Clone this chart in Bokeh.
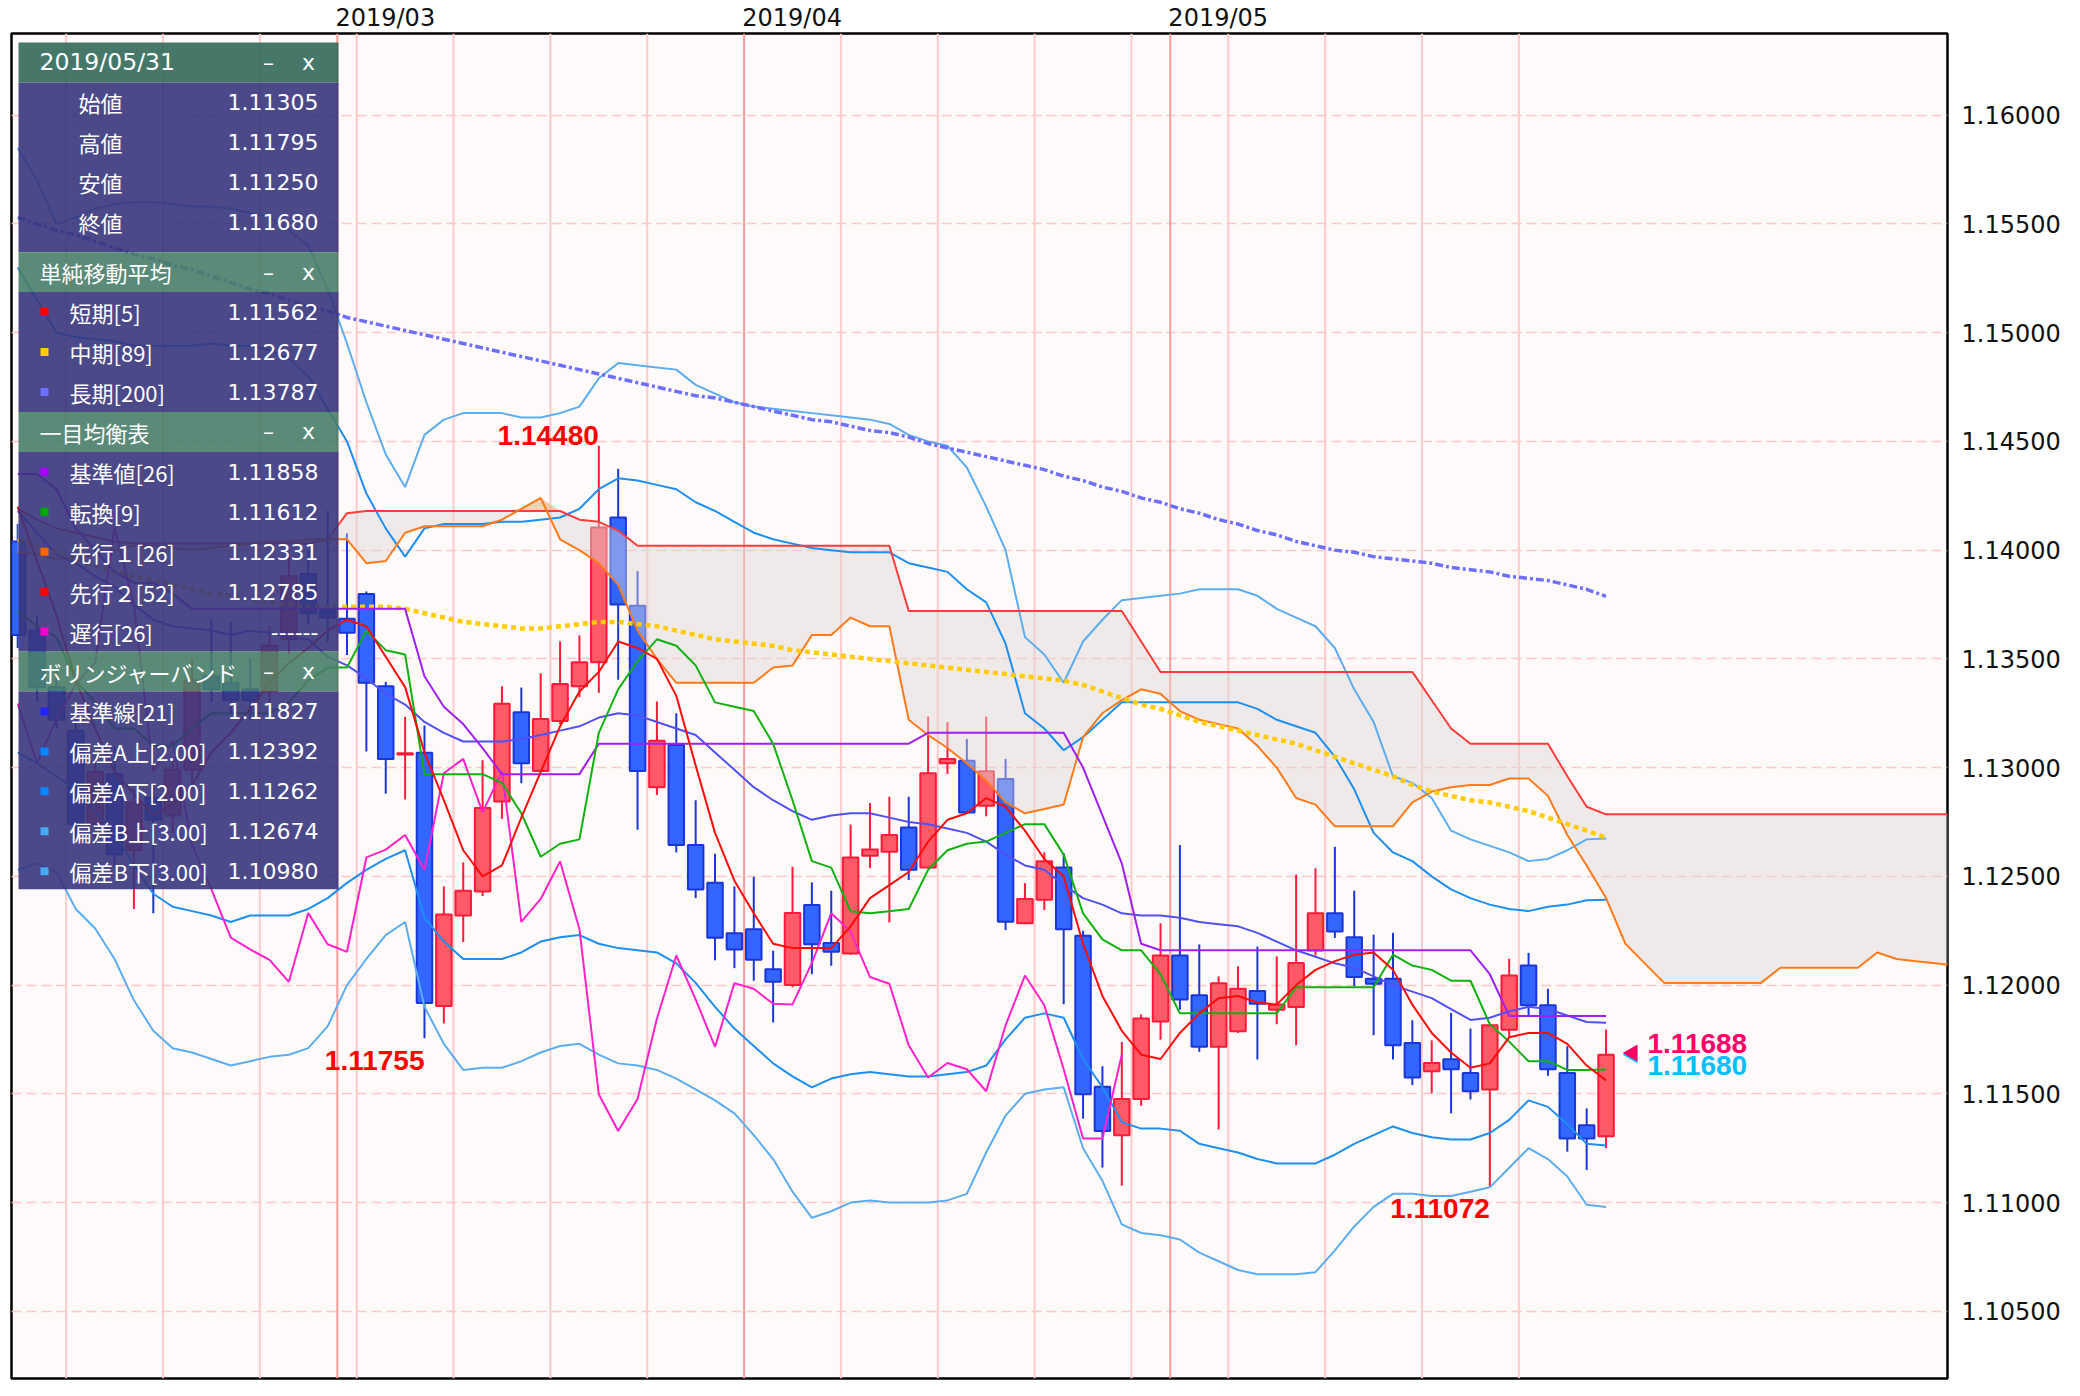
import numpy as np
import pandas as pd
from bokeh.plotting import figure
from bokeh.models import (Range1d, FixedTicker, NumeralTickFormatter, Span, LinearAxis,
                          ColumnDataSource)
from bokeh.core.properties import value
from bokeh.embed import file_html
from bokeh.resources import INLINE

# ---------------- data (EUR/USD daily, Feb 6 - May 31 2019) ----------------
dates = pd.bdate_range("2019-02-06", "2019-05-31")
x = np.arange(len(dates)) - 17          # 2019-03-01 -> 0

opens = [1.1404, 1.1363, 1.1337, 1.1317, 1.1274, 1.1297, 1.1262, 1.1286, 1.1278, 1.1299, 1.1342, 1.1339, 1.1336, 1.1335, 1.1359, 1.1389, 1.1372,
         1.13684, 1.13798, 1.13374, 1.13060, 1.13068, 1.11904, 1.12320, 1.12430, 1.12844, 1.13254, 1.12984, 1.13214, 1.13374, 1.13484, 1.14150, 1.13744,
         1.12910, 1.13104, 1.12644, 1.12470, 1.12238, 1.12257, 1.12073, 1.12000, 1.12368, 1.12193, 1.12145, 1.12595, 1.12613, 1.12725, 1.12541, 1.13020,
         1.13032, 1.12825, 1.12948, 1.12284, 1.12392, 1.12541, 1.12227, 1.11532, 1.11310, 1.11476, 1.11833, 1.12136, 1.11953, 1.11716, 1.11788, 1.11973,
         1.11887, 1.11899, 1.12159, 1.12330, 1.12220, 1.12029, 1.12029, 1.11734, 1.11604, 1.11659, 1.11596, 1.11520, 1.11795, 1.12090, 1.11907, 1.11596,
         1.11356, 1.11305]
highs = [1.1412, 1.1370, 1.1345, 1.1322, 1.1305, 1.1310, 1.1290, 1.1292, 1.1305, 1.1350, 1.1368, 1.1367, 1.1350, 1.1365, 1.1398, 1.1400, 1.1418,
         1.14078, 1.13810, 1.13394, 1.13234, 1.13194, 1.12454, 1.12564, 1.13034, 1.13374, 1.13368, 1.13434, 1.13580, 1.13608, 1.14480, 1.14374, 1.13904,
         1.13304, 1.13250, 1.12850, 1.12604, 1.12454, 1.12498, 1.12158, 1.12544, 1.12472, 1.12434, 1.12738, 1.12837, 1.12866, 1.12866, 1.13235, 1.13209,
         1.13132, 1.13235, 1.13040, 1.12469, 1.12610, 1.12607, 1.12250, 1.11627, 1.11739, 1.11865, 1.12284, 1.12644, 1.12187, 1.12040, 1.12086, 1.12177,
         1.12132, 1.12508, 1.12537, 1.12636, 1.12434, 1.12232, 1.12240, 1.11838, 1.11746, 1.11872, 1.11800, 1.11815, 1.12121, 1.12148, 1.11983, 1.11719,
         1.11433, 1.11795]
lows = [1.1355, 1.1330, 1.1318, 1.1268, 1.1265, 1.1255, 1.1235, 1.1233, 1.1270, 1.1290, 1.1330, 1.1325, 1.1322, 1.1330, 1.1352, 1.1366, 1.1358,
        1.13518, 1.13074, 1.12880, 1.12854, 1.11755, 1.11824, 1.12198, 1.12410, 1.12764, 1.12928, 1.12980, 1.13200, 1.13324, 1.13344, 1.13404, 1.12714,
        1.12874, 1.12610, 1.12400, 1.12114, 1.12078, 1.12020, 1.11828, 1.11990, 1.12050, 1.12089, 1.12140, 1.12538, 1.12288, 1.12483, 1.12540, 1.12971,
        1.12787, 1.12776, 1.12253, 1.12280, 1.12345, 1.11912, 1.11386, 1.11161, 1.11078, 1.11445, 1.11749, 1.11887, 1.11693, 1.11336, 1.11780, 1.11658,
        1.11820, 1.11723, 1.12136, 1.12217, 1.11994, 1.11769, 1.11658, 1.11540, 1.11502, 1.11410, 1.11474, 1.11072, 1.11762, 1.11856, 1.11583, 1.11234,
        1.11150, 1.11250]
closes = [1.1361, 1.1337, 1.1322, 1.1274, 1.1298, 1.1260, 1.1284, 1.1276, 1.1299, 1.1340, 1.1336, 1.1331, 1.1331, 1.1356, 1.1388, 1.1371, 1.1369,
          1.13620, 1.13390, 1.13040, 1.13066, 1.11918, 1.12324, 1.12434, 1.12814, 1.13294, 1.13020, 1.13224, 1.13384, 1.13484, 1.14104, 1.13750, 1.12984,
          1.13124, 1.12644, 1.12440, 1.12218, 1.12164, 1.12116, 1.12015, 1.12331, 1.12188, 1.12153, 1.12587, 1.12623, 1.12690, 1.12530, 1.12974, 1.13040,
          1.12794, 1.12983, 1.12291, 1.12396, 1.12569, 1.12257, 1.11498, 1.11329, 1.11476, 1.11846, 1.12136, 1.11934, 1.11716, 1.12009, 1.11983, 1.11914,
          1.11911, 1.12102, 1.12330, 1.12246, 1.12037, 1.12006, 1.11723, 1.11575, 1.11642, 1.11613, 1.11512, 1.11815, 1.12044, 1.11907, 1.11613, 1.11295,
          1.11295, 1.11680]

sma5 = [1.1420, 1.1395, 1.1370, 1.1340, 1.1318, 1.1298, 1.1288, 1.1278, 1.1283, 1.1292, 1.1307, 1.1316, 1.1327, 1.1339, 1.1348, 1.1355, 1.1363,
        1.1368, 1.1365, 1.1351, 1.1337, 1.1307, 1.1285, 1.1262, 1.1250, 1.1255, 1.1277, 1.1298, 1.1319, 1.1335, 1.1344, 1.1358, 1.1355,
        1.1350, 1.1333, 1.1301, 1.1270, 1.1248, 1.1233, 1.1219, 1.1217, 1.1217, 1.1217, 1.1227, 1.1240, 1.1246, 1.1252, 1.1266, 1.1276,
        1.1279, 1.1286, 1.1282, 1.1271, 1.1258, 1.1250, 1.1219, 1.1195, 1.1179, 1.1168, 1.1166, 1.1178, 1.1187, 1.1194, 1.1195, 1.1192,
        1.1191, 1.1200, 1.1207, 1.1211, 1.1214, 1.1215, 1.1207, 1.1191, 1.1178, 1.1169, 1.1162, 1.1164, 1.1176, 1.1178, 1.1178, 1.1173,
        1.1163, 1.11562]
sma89 = [1.1405, 1.1402, 1.1399, 1.1396, 1.1393, 1.1390, 1.1388, 1.1386, 1.1384, 1.1382, 1.1380, 1.1379, 1.1377, 1.1376, 1.1375, 1.1374, 1.1374,
         1.1374, 1.1374, 1.1374, 1.1373, 1.1371, 1.1369, 1.1367, 1.1366, 1.1365, 1.1364, 1.1364, 1.1365, 1.1366, 1.1367, 1.1367, 1.1366,
         1.1365, 1.1363, 1.1361, 1.1359, 1.1358, 1.1357, 1.1356, 1.1354, 1.1353, 1.1352, 1.1351, 1.1350, 1.1349, 1.1348, 1.1347, 1.1346,
         1.1345, 1.1344, 1.1343, 1.1342, 1.1341, 1.1340, 1.1338, 1.1335, 1.1332, 1.1329, 1.1327, 1.1324, 1.1321, 1.1319, 1.1317, 1.1315,
         1.1313, 1.1311, 1.1308, 1.1305, 1.1302, 1.1299, 1.1296, 1.1292, 1.1289, 1.1287, 1.1285, 1.1284, 1.1282, 1.1280, 1.1277, 1.1274,
         1.1271, 1.12677]
sma200 = [1.1553, 1.1550, 1.1547, 1.1545, 1.1542, 1.1539, 1.1536, 1.1534, 1.1531, 1.1529, 1.1526, 1.1523, 1.1520, 1.1518, 1.1515, 1.1512, 1.1510,
          1.1507, 1.1505, 1.1503, 1.1501, 1.1499, 1.1497, 1.1495, 1.1493, 1.1491, 1.1489, 1.1487, 1.1485, 1.1483, 1.1481, 1.1479, 1.1477,
          1.1475, 1.1473, 1.1471, 1.1470, 1.1468, 1.1466, 1.1464, 1.1462, 1.1460, 1.1459, 1.1457, 1.1455, 1.1454, 1.1452, 1.1449, 1.1447,
          1.1445, 1.1443, 1.1441, 1.1439, 1.1437, 1.1434, 1.1432, 1.1429, 1.1427, 1.1424, 1.1422, 1.1419, 1.1417, 1.1414, 1.1412, 1.1409,
          1.1407, 1.1404, 1.1402, 1.1400, 1.1399, 1.1397, 1.1396, 1.1395, 1.1394, 1.1392, 1.1391, 1.1390, 1.1388, 1.1387, 1.1386, 1.1384,
          1.1382, 1.13787]

kijun = [1.1435, 1.1435, 1.1428, 1.1410, 1.1400, 1.1390, 1.1385, 1.1385, 1.1380, 1.1373, 1.1373, 1.1373, 1.1373, 1.1373, 1.1373, 1.1373, 1.1373,
         1.1373, 1.1373, 1.1373, 1.1373, 1.1342, 1.1328, 1.1320, 1.1309, 1.1297, 1.1297, 1.1297, 1.1297, 1.1297, 1.1311, 1.1311, 1.1311,
         1.1311, 1.1311, 1.1311, 1.1311, 1.1311, 1.1311, 1.1311, 1.1311, 1.1311, 1.1311, 1.1311, 1.1311, 1.1311, 1.1311, 1.1316, 1.1316,
         1.1316, 1.1316, 1.1316, 1.1316, 1.1316, 1.1316, 1.1300, 1.1278, 1.1256, 1.1219, 1.1216, 1.1216, 1.1216, 1.1216, 1.1216, 1.1216,
         1.1216, 1.1216, 1.1216, 1.1216, 1.1216, 1.1216, 1.1216, 1.1216, 1.1216, 1.1216, 1.1216, 1.1205, 1.11858, 1.11858, 1.11858, 1.11858,
         1.11858, 1.11858]
tenkan = [1.1372, 1.1365, 1.1360, 1.1340, 1.1330, 1.1318, 1.1318, 1.1310, 1.1310, 1.1318, 1.1325, 1.1325, 1.1325, 1.1325, 1.1330, 1.1340, 1.1346,
          1.1346, 1.1363, 1.1354, 1.1352, 1.1297, 1.1297, 1.1297, 1.1297, 1.1293, 1.1279, 1.1259, 1.1265, 1.1267, 1.1316, 1.1336, 1.1349,
          1.1359, 1.1356, 1.1347, 1.1330, 1.1328, 1.1326, 1.1311, 1.1285, 1.1257, 1.1254, 1.1234, 1.1233, 1.1234, 1.1235, 1.1253, 1.1262,
          1.1265, 1.1266, 1.1270, 1.1274, 1.1274, 1.1260, 1.1233, 1.1221, 1.1216, 1.1216, 1.1205, 1.1187, 1.1187, 1.1187, 1.1187, 1.1187,
          1.1187, 1.1199, 1.1199, 1.1199, 1.1199, 1.1199, 1.1214, 1.1209, 1.1207, 1.1202, 1.1202, 1.1182, 1.1174, 1.1165, 1.1165, 1.1161,
          1.1161, 1.11612]
# leading spans, from 2019-02-06 through 26 bars past 2019-05-31 (index -17 .. 83)
senkou_a = [1.1399, 1.1398, 1.1396, 1.1396, 1.1398, 1.1400, 1.1402, 1.1402, 1.1401, 1.1400, 1.1401, 1.1402, 1.1403, 1.1404, 1.1404, 1.1405, 1.1405,
            1.1405, 1.1394, 1.1395, 1.1408, 1.1411, 1.1411, 1.1411, 1.1411, 1.1414, 1.1419, 1.1424, 1.1405, 1.1400, 1.1394, 1.1384, 1.1363,
            1.1350, 1.1339, 1.1339, 1.1339, 1.1339, 1.1339, 1.1346, 1.1347, 1.1361, 1.1361, 1.1369, 1.1365, 1.1365, 1.1322,
            1.1315, 1.1309, 1.1302, 1.1294, 1.1284, 1.1279, 1.1281, 1.1283, 1.1314, 1.1325, 1.1331, 1.1336, 1.1334, 1.1326, 1.1322, 1.1320,
            1.1318, 1.1310, 1.1300, 1.1286, 1.1283, 1.1273, 1.1273, 1.1273, 1.1273, 1.1284, 1.1289, 1.1291, 1.1292, 1.1292, 1.1295, 1.1295,
            1.1287, 1.1269, 1.1255, 1.1240,
            1.1219, 1.1210, 1.1201, 1.1201, 1.1201, 1.1201, 1.1201, 1.1201, 1.1208, 1.1208, 1.1208, 1.1208, 1.1208, 1.1215, 1.1212, 1.1211,
            1.1210, 1.1209]
senkou_b = [1.1419, 1.1414, 1.1410, 1.1408, 1.1406, 1.1404, 1.1403, 1.1403, 1.1403, 1.1403, 1.1403, 1.1403, 1.1403, 1.1403, 1.1403, 1.1403, 1.1405,
            1.1417, 1.1418, 1.1418, 1.1418, 1.1418, 1.1418, 1.1418, 1.1418, 1.1418, 1.1418, 1.1418, 1.1418, 1.1414, 1.1413, 1.1409, 1.1402,
            1.1402, 1.1402, 1.1402, 1.1402, 1.1402, 1.1402, 1.1402, 1.1402, 1.1402, 1.1402, 1.1402, 1.1402, 1.1402,
            1.1372, 1.1372, 1.1372, 1.1372, 1.1372, 1.1372, 1.1372, 1.1372, 1.1372, 1.1372, 1.1372, 1.1372,
            1.1358, 1.1344, 1.1344, 1.1344, 1.1344, 1.1344, 1.1344, 1.1344, 1.1344, 1.1344, 1.1344, 1.1344, 1.1344, 1.1344, 1.1344,
            1.1331, 1.1318, 1.1311, 1.1311, 1.1311, 1.1311, 1.1311, 1.1296, 1.1282,
            1.12785, 1.12785, 1.12785, 1.12785, 1.12785, 1.12785, 1.12785, 1.12785, 1.12785, 1.12785, 1.12785, 1.12785, 1.12785, 1.12785,
            1.12785, 1.12785, 1.12785, 1.12785, 1.12785]
# lagging span, index -17 .. 40
chikou = [1.13294, 1.13020, 1.13224, 1.13384, 1.13484, 1.14104, 1.13750, 1.12984, 1.13124, 1.12644, 1.12440, 1.12218, 1.12164, 1.12116,
          1.12015, 1.12331, 1.12188, 1.12153, 1.12587, 1.12623, 1.12690, 1.12530, 1.12974, 1.13040, 1.12794, 1.12983, 1.12291, 1.12396,
          1.12569, 1.12257, 1.11498, 1.11329, 1.11476, 1.11846, 1.12136, 1.11934, 1.11716, 1.12009, 1.11983, 1.11914, 1.11911, 1.12102,
          1.12330, 1.12246, 1.12037, 1.12006, 1.11723, 1.11575, 1.11642, 1.11613, 1.11512, 1.11815, 1.12044, 1.11907, 1.11613, 1.11295,
          1.11295, 1.11680]

bb_mid = [1.1418, 1.1408, 1.1398, 1.1394, 1.1388, 1.1383, 1.1375, 1.1368, 1.1365, 1.1364, 1.1363, 1.1361, 1.1363, 1.1362, 1.1360, 1.1359, 1.1351,
          1.1347, 1.1341, 1.1334, 1.1329, 1.1321, 1.1316, 1.1312, 1.1312, 1.1312, 1.1313, 1.1315, 1.1317, 1.1319, 1.1323, 1.1325, 1.1324,
          1.1321, 1.1318, 1.1315, 1.1307, 1.1299, 1.1291, 1.1285, 1.1280, 1.1276, 1.1278, 1.1279, 1.1279, 1.1277, 1.1275, 1.1274, 1.1272,
          1.1270, 1.1266, 1.1260, 1.1255, 1.1253, 1.1246, 1.1240, 1.1237, 1.1233, 1.1232, 1.1232, 1.1231, 1.1229, 1.1228, 1.1227, 1.1224,
          1.1220, 1.1216, 1.1213, 1.1210, 1.1208, 1.1204, 1.1200, 1.1197, 1.1194, 1.1189, 1.1184, 1.1185, 1.1188, 1.1190, 1.1189, 1.1186,
          1.1183, 1.11827]
bb_up2 = [1.1530, 1.1515, 1.1500, 1.1498, 1.1497, 1.1496, 1.1494, 1.1494, 1.1494, 1.1494, 1.1495, 1.1494, 1.1494, 1.1492, 1.1488, 1.1480, 1.1465,
          1.1450, 1.1426, 1.1410, 1.1397, 1.1410, 1.1412, 1.1412, 1.1412, 1.1413, 1.1413, 1.1414, 1.1415, 1.1419, 1.1428, 1.1433, 1.1432,
          1.1430, 1.1428, 1.1422, 1.1418, 1.1413, 1.1408, 1.1405, 1.1403, 1.1401, 1.1400, 1.1399, 1.1399, 1.1399, 1.1394, 1.1392, 1.1390,
          1.1382, 1.1376, 1.1357, 1.1325, 1.1318, 1.1308, 1.1314, 1.1322, 1.1330, 1.1330, 1.1330, 1.1330, 1.1330, 1.1330, 1.1330, 1.1327,
          1.1322, 1.1319, 1.1316, 1.1305, 1.1290, 1.1270, 1.1261, 1.1257, 1.1250, 1.1244, 1.1240, 1.1237, 1.1235, 1.1234, 1.1236, 1.1237,
          1.1239, 1.12392]
bb_up3 = [1.1585, 1.1570, 1.1550, 1.1553, 1.1557, 1.1559, 1.1560, 1.1560, 1.1559, 1.1558, 1.1558, 1.1557, 1.1555, 1.1553, 1.1547, 1.1540, 1.1520,
          1.1495, 1.1468, 1.1444, 1.1429, 1.1453, 1.1460, 1.1463, 1.1463, 1.1463, 1.1461, 1.1461, 1.1463, 1.1466, 1.1479, 1.1486, 1.1485,
          1.1484, 1.1483, 1.1476, 1.1472, 1.1468, 1.1466, 1.1465, 1.1464, 1.1463, 1.1462, 1.1461, 1.1460, 1.1458, 1.1453, 1.1450, 1.1448,
          1.1438, 1.1420, 1.1400, 1.1360, 1.1352, 1.1339, 1.1358, 1.1368, 1.1377, 1.1378, 1.1379, 1.1380, 1.1382, 1.1382, 1.1382, 1.1379,
          1.1373, 1.1369, 1.1365, 1.1355, 1.1336, 1.1321, 1.1296, 1.1293, 1.1286, 1.1271, 1.1267, 1.1264, 1.1261, 1.1257, 1.1258, 1.1262,
          1.1267, 1.12674]
bb_dn2 = [1.1307, 1.1302, 1.1296, 1.1290, 1.1280, 1.1270, 1.1255, 1.1242, 1.1236, 1.1234, 1.1232, 1.1229, 1.1232, 1.1232, 1.1232, 1.1235, 1.1240,
          1.1247, 1.1253, 1.1258, 1.1262, 1.1231, 1.1220, 1.1212, 1.1212, 1.1212, 1.1215, 1.1220, 1.1222, 1.1223, 1.1219, 1.1217, 1.1216,
          1.1215, 1.1210, 1.1201, 1.1190, 1.1180, 1.1172, 1.1164, 1.1158, 1.1153, 1.1157, 1.1159, 1.1160, 1.1159, 1.1158, 1.1158, 1.1159,
          1.1160, 1.1163, 1.1175, 1.1185, 1.1187, 1.1185, 1.1166, 1.1153, 1.1137, 1.1134, 1.1134, 1.1133, 1.1127, 1.1125, 1.1123, 1.1120,
          1.1118, 1.1118, 1.1118, 1.1122, 1.1127, 1.1131, 1.1135, 1.1132, 1.1130, 1.1129, 1.1129, 1.1132, 1.1138, 1.1147, 1.1144, 1.1136,
          1.1127, 1.11262]
bb_dn3 = [1.1253, 1.1256, 1.1252, 1.1235, 1.1226, 1.1212, 1.1193, 1.1179, 1.1171, 1.1169, 1.1166, 1.1163, 1.1165, 1.1167, 1.1168, 1.1171, 1.1181,
          1.1200, 1.1212, 1.1223, 1.1229, 1.1190, 1.1173, 1.1161, 1.1162, 1.1162, 1.1165, 1.1169, 1.1172, 1.1173, 1.1168, 1.1164, 1.1163,
          1.1161, 1.1157, 1.1152, 1.1147, 1.1141, 1.1131, 1.1120, 1.1105, 1.1093, 1.1096, 1.1100, 1.1101, 1.1100, 1.1100, 1.1100, 1.1101,
          1.1104, 1.1123, 1.1140, 1.1150, 1.1152, 1.1153, 1.1125, 1.1110, 1.1090, 1.1086, 1.1085, 1.1083, 1.1077, 1.1073, 1.1069, 1.1067,
          1.1067, 1.1067, 1.1068, 1.1078, 1.1089, 1.1098, 1.1104, 1.1104, 1.1103, 1.1103, 1.1105, 1.1107, 1.1116, 1.1125, 1.1120, 1.1112,
          1.1099, 1.1098]

y_ticks = [1.105, 1.110, 1.115, 1.120, 1.125, 1.130, 1.135, 1.140, 1.145, 1.150, 1.155, 1.160]
peak_labels = [(13, 1.14480, "high"), (4, 1.11755, "low"), (59, 1.11072, "low")]   # (bar index, price, side)
price_tags = [1.11688, 1.11680]
legend_ichimoku = ["1.11858", "1.11612", "1.12331", "1.12785", "------"]

for arr in (opens, highs, lows, closes, sma5, sma89, sma200, kijun, tenkan, bb_mid, bb_up2, bb_up3, bb_dn2, bb_dn3):
    assert len(arr) == len(dates), len(arr)
assert len(senkou_a) == 101 and len(senkou_b) == 101, (len(senkou_a), len(senkou_b))
assert len(chikou) == 58, len(chikou)

# -------------- geometry helpers (reference pixel -> data) --------------
BAR_PX, X0_PX = 19.37, 346.5          # pixel width of one bar, pixel x of bar 0
PX_PER_005, Y116_PX = 108.9, 112.8    # pixels per 0.005, pixel y of 1.16000
def X(px):
    return (px - X0_PX) / BAR_PX
def Y(py):
    return 1.16 - (py - Y116_PX) / PX_PER_005 * 0.005

W, H = 2064, 1380
FL, FT, FR, FB = 11, 31, 1947, 1378   # frame edges in pixels
p = figure(width=W, height=H, output_backend="svg", toolbar_location=None, title=None,
           x_range=Range1d(X(FL), X(FR)), y_range=Range1d(Y(FB), Y(FT)),
           x_axis_location=None, y_axis_location="right",
           min_border_left=FL, min_border_right=W - FR, min_border_top=FT, min_border_bottom=H - FB)
p.background_fill_color = "#fffafa"
p.border_fill_color = "#ffffff"
p.outline_line_color = "#000000"
p.outline_line_width = 2.5

ticker = FixedTicker(ticks=y_ticks)
p.yaxis.ticker = ticker
p.yaxis.formatter = NumeralTickFormatter(format="0.00000")
p.yaxis.major_label_text_font = "DejaVu Sans"
p.yaxis.major_label_text_font_size = "24px"
p.yaxis.major_label_text_color = "#111111"
p.yaxis.axis_line_color = None
p.yaxis.major_tick_line_color = None
p.yaxis.minor_tick_line_color = None
p.yaxis.major_tick_out = 0
p.yaxis.major_tick_in = 0
p.yaxis.major_label_standoff = 14
p.ygrid.ticker = ticker
p.ygrid.grid_line_color = "#ffc8c8"
p.ygrid.grid_line_dash = "10 5"
p.ygrid.grid_line_width = 1.5
p.xgrid.visible = False

# vertical lines: week starts (Mondays) and month starts
month_starts = [k for k in range(1, len(dates)) if dates[k].month != dates[k - 1].month]
for k in range(len(dates)):
    if k in month_starts:
        p.add_layout(Span(location=x[k] - 0.5, dimension="height", line_color="#ff9c9c", line_width=2, level="underlay"))
    elif dates[k].weekday() == 0:
        p.add_layout(Span(location=x[k] - 0.5, dimension="height", line_color="#ffcaca", line_width=2, level="underlay"))

# month labels on a top axis (label centre sits ~2.5 bars right of the month line)
month_ticks = [float(x[k] - 0.5 + 48 / BAR_PX) for k in month_starts]
top_axis = LinearAxis(ticker=FixedTicker(ticks=month_ticks),
                      major_label_overrides={t: dates[k].strftime("%Y/%m") for t, k in zip(month_ticks, month_starts)})
top_axis.axis_line_color = None
top_axis.major_tick_line_color = None
top_axis.minor_tick_line_color = None
top_axis.major_tick_out = 0
top_axis.major_tick_in = 0
top_axis.major_label_standoff = 2
top_axis.major_label_text_font = "DejaVu Sans"
top_axis.major_label_text_font_size = "24px"
top_axis.major_label_text_color = "#111111"
p.add_layout(top_axis, "above")

# ---------------- candles ----------------
o, h, l, c = map(np.array, (opens, highs, lows, closes))
up = c >= o
src = ColumnDataSource(dict(
    x=x, h=h, l=l, top=np.maximum(o, c), bot=np.minimum(o, c),
    fill=["#ff5a66" if u else "#3366ff" for u in up],
    edge=["#ff1a3a" if u else "#1a36d8" for u in up]))
p.segment(x0="x", y0="l", x1="x", y1="h", line_color="edge", line_width=2, source=src)
p.vbar(x="x", width=0.8, top="top", bottom="bot", fill_color="fill", line_color="edge", line_width=2, source=src)

# ---------------- ichimoku cloud ----------------
xs_lead = np.arange(-17, 84)
A, B = np.array(senkou_a), np.array(senkou_b)
p.varea(x=xs_lead, y1=A, y2=np.maximum(A, B), fill_color="#dcd6d4", fill_alpha=0.45)
p.varea(x=xs_lead, y1=B, y2=np.maximum(A, B), fill_color="#ffa060", fill_alpha=0.45)

# ---------------- indicator lines ----------------
p.line(x, bb_up3, line_color="#5cadf0", line_width=2)
p.line(x, bb_dn3, line_color="#5cadf0", line_width=2)
p.line(x, bb_up2, line_color="#1e8ff0", line_width=2)
p.line(x, bb_dn2, line_color="#1e8ff0", line_width=2)
p.line(x, bb_mid, line_color="#5050f5", line_width=2)
p.line(xs_lead, B, line_color="#ff3b3b", line_width=2)
p.line(xs_lead, A, line_color="#ff7a1a", line_width=2)
p.line(x, sma200, line_color="#6f6fff", line_width=3.5, line_dash="8 3 3 3")
p.line(x, sma89, line_color="#ffcc00", line_width=4.5, line_dash="5 4")
p.line(np.arange(-17, 41), chikou, line_color="#ff22cc", line_width=2)
p.line(x, kijun, line_color="#a020f0", line_width=2)
p.line(x, tenkan, line_color="#10b010", line_width=2)
p.line(x, sma5, line_color="#ff0a0a", line_width=2)

# ---------------- peak / trough labels ----------------
for idx, price, side in peak_labels:
    p.text(x=[idx], y=[price], text=[f"{price:.5f}"], text_font=value("Liberation Sans"),
           text_font_style="bold", text_font_size="28px", text_color="#ff0000",
           text_align="right", text_baseline="middle",
           y_offset=-10 if side == "high" else 22)

# current price tags
tag_x = X(1647)
p.scatter(x=[X(1632)], y=[price_tags[1]], marker="triangle", angle=np.pi / 2, size=17,
          fill_color="#00bfff", line_color=None)
p.scatter(x=[X(1632)], y=[price_tags[0]], marker="triangle", angle=np.pi / 2, size=17,
          fill_color="#ff0066", line_color=None)
p.text(x=[tag_x], y=[price_tags[0]], text=[f"{price_tags[0]:.5f}"], text_font=value("Liberation Sans"),
       text_font_style="bold", text_font_size="28px", text_color="#ff0066",
       text_align="left", text_baseline="middle", y_offset=-9)
p.text(x=[tag_x], y=[price_tags[1]], text=[f"{price_tags[1]:.5f}"], text_font=value("Liberation Sans"),
       text_font_style="bold", text_font_size="28px", text_color="#00bfff",
       text_align="left", text_baseline="middle", y_offset=11)

# ---------------- info panel (top-left) ----------------
PL, PR = X(18), X(338)
HDR0, HDR, BODY = "#316959", "#487d69", "#37357c"
bands = [(40, 80, HDR0), (80, 250, BODY), (250, 290, HDR), (290, 410, BODY),
         (410, 450, HDR), (450, 650, BODY), (650, 690, HDR), (690, 888, BODY)]
for top, bot, col in bands:
    p.quad(left=[PL], right=[PR], top=[Y(top)], bottom=[Y(bot)], fill_color=col, fill_alpha=0.9, line_color=None)

def put(xp, yp, txt, font="DejaVu Sans", size="22px", align="left", color="#ffffff"):
    p.text(x=[X(xp)], y=[Y(yp)], text=[txt], text_font=value(font), text_font_size=size,
           text_color=color, text_align=align, text_baseline="middle")

JP = "Noto Sans CJK JP"
headers = [("2019/05/31", 60, "DejaVu Sans"), ("単純移動平均", 270, JP), ("一目均衡表", 430, JP), ("ボリンジャーバンド", 670, JP)]
for txt, yp, fnt in headers:
    put(39, yp, txt, font=fnt, size="22px" if fnt == JP else "23.5px")
    put(268, yp, "–", align="center")
    put(308, yp, "x", align="center")

ohlc_rows = [("始値", opens[-1]), ("高値", highs[-1]), ("安値", lows[-1]), ("終値", closes[-1])]
for k, (lab, val) in enumerate(ohlc_rows):
    yp = 100 + 40 * k
    put(78, yp, lab, font=JP, size="22px")
    put(318, yp, f"{val:.5f}", align="right")

ind_rows = [
    (310, "短期[5]", "#ff0000", f"{sma5[-1]:.5f}"),
    (350, "中期[89]", "#ffcc00", f"{sma89[-1]:.5f}"),
    (390, "長期[200]", "#6f6fff", f"{sma200[-1]:.5f}"),
    (470, "基準値[26]", "#aa00ff", legend_ichimoku[0]),
    (510, "転換[9]", "#00aa00", legend_ichimoku[1]),
    (550, "先行１[26]", "#ff6600", legend_ichimoku[2]),
    (590, "先行２[52]", "#ff0000", legend_ichimoku[3]),
    (630, "遅行[26]", "#ff00cc", legend_ichimoku[4]),
    (710, "基準線[21]", "#2222ff", f"{bb_mid[-1]:.5f}"),
    (750, "偏差A上[2.00]", "#0a84ff", f"{bb_up2[-1]:.5f}"),
    (790, "偏差A下[2.00]", "#0a84ff", f"{bb_dn2[-1]:.5f}"),
    (830, "偏差B上[3.00]", "#4aa8f0", f"{bb_up3[-1]:.5f}"),
    (870, "偏差B下[3.00]", "#4aa8f0", f"{bb_dn3[-1]:.5f}"),
]
for yp, lab, col, val in ind_rows:
    p.scatter(x=[X(44)], y=[Y(yp)], marker="square", size=8, fill_color=col, line_color=None)
    put(69, yp, lab, font=JP, size="22px")
    put(318, yp, val, align="right")

open("out.html", "w").write(file_html(p, INLINE))
